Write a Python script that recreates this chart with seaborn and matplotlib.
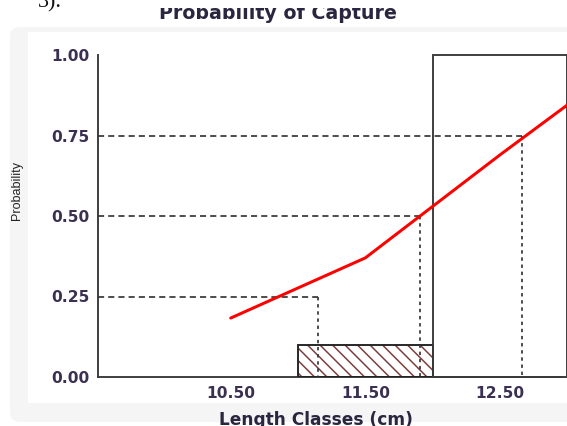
import matplotlib
matplotlib.use("Agg")
import matplotlib.pyplot as plt
import seaborn as sns
from matplotlib.patches import FancyBboxPatch, Rectangle

# Selection curve: probability of capture at each length-class midpoint
length_mid = [10.5, 11.5, 12.5, 13.5]
capture_prob = [0.183, 0.37, 0.69, 1.0]

# Length classes drawn as boxes (left edge, width, height)
class_left = [11.0, 12.0]
class_width = [1.0, 1.0]
class_height = [0.10, 1.00]

# Lengths at 25 %, 50 % and 75 % probability of capture
prob_levels = [0.25, 0.50, 0.75]
length_at_prob = [11.15, 11.905, 12.66]

x_ticks = [10.5, 11.5, 12.5]
x_tick_labels = ["10.50", "11.50", "12.50"]
y_ticks = [0.0, 0.25, 0.5, 0.75, 1.0]
y_tick_labels = ["0.00", "0.25", "0.50", "0.75", "1.00"]

x_range = (9.515, 12.997)
y_range = (0.0, 1.0)

DPI = 75
W, H = 567, 426


def pt(px):
    return px * 72.0 / DPI


def fx(x):
    return x / W


def fy(y):
    return 1.0 - y / H


sns.set_theme(style="white")
plt.rcParams["font.family"] = ["DejaVu Sans"]
plt.rcParams["hatch.linewidth"] = pt(1.5)

fig = plt.figure(figsize=(W / DPI, H / DPI), dpi=DPI)
fig.patch.set_facecolor("white")

# faint chart panel behind the plot
panel = FancyBboxPatch((fx(10), fy(422)), fx(640) - fx(10), fy(27) - fy(422),
                       boxstyle="round,pad=0,rounding_size=0.02",
                       transform=fig.transFigure, facecolor="#f5f5f5",
                       edgecolor="none", zorder=-2)
fig.patches.append(panel)
inner = Rectangle((fx(28), fy(403)), fx(640) - fx(28), fy(32) - fy(403),
                  transform=fig.transFigure, facecolor="white",
                  edgecolor="none", zorder=-1)
fig.patches.append(inner)

ax = fig.add_axes([fx(98), fy(377), fx(567) - fx(98), fy(55) - fy(377)])
ax.patch.set_alpha(0)
ax.set_xlim(*x_range)
ax.set_ylim(*y_range)

axis_col = "#3a3a3a"
box_lw = pt(1.9)

# hatched lower class (hatch layer, then outline)
ax.bar(class_left[:1], class_height[:1], width=class_width[:1], align="edge",
       facecolor="none", edgecolor="#7d3c3c", linewidth=0, hatch="\\\\",
       zorder=2)
ax.bar(class_left[:1], class_height[:1], width=class_width[:1], align="edge",
       facecolor="none", edgecolor="#222222", linewidth=box_lw, zorder=3)
# open upper class
ax.bar(class_left[1:], class_height[1:], width=class_width[1:], align="edge",
       facecolor="none", edgecolor=axis_col, linewidth=box_lw, zorder=3,
       clip_on=False)

# reference lines for L25, L50, L75
for p, L in zip(prob_levels, length_at_prob):
    ax.plot([x_range[0], L], [p, p], color="#333333", lw=pt(1.7),
            ls=(0, (3.6, 2.4)), zorder=4, solid_capstyle="butt")
    ax.plot([L, L], [p, y_range[0]], color="#333333", lw=pt(1.7),
            ls=(0, (2.0, 2.2)), zorder=4)

# selection curve
sns.lineplot(x=length_mid, y=capture_prob, color="#ff0000", linewidth=pt(3.0),
             ax=ax, zorder=5)

for side in ("top", "right"):
    ax.spines[side].set_visible(False)
for side in ("left", "bottom"):
    ax.spines[side].set_color(axis_col)
    ax.spines[side].set_linewidth(box_lw)
ax.spines["bottom"].set_bounds(x_range[0], 12.96)

tick_col = "#3b3052"
ax.set_xticks(x_ticks)
ax.set_xticklabels(x_tick_labels)
ax.set_yticks(y_ticks)
ax.set_yticklabels(y_tick_labels)
ax.tick_params(axis="x", direction="in", length=pt(5), width=pt(1.6),
               color=axis_col, pad=pt(9), labelsize=pt(15.5),
               labelcolor=tick_col)
ax.tick_params(axis="y", direction="in", length=pt(9), width=pt(1.6),
               color=axis_col, pad=pt(8), labelsize=pt(15.5),
               labelcolor=tick_col)
for lab in ax.get_xticklabels() + ax.get_yticklabels():
    lab.set_fontweight("bold")
ax.set_xlabel("")
ax.set_ylabel("")

fig.text(fx(278), fy(19), "Probability of Capture", ha="center",
         va="baseline", fontsize=pt(19), fontweight="bold", color="#2b2640",
         zorder=3)
# white strip over the upper part of the heading
fig.patches.append(Rectangle((fx(120), fy(8)), fx(330), fy(0) - fy(8),
                             transform=fig.transFigure, facecolor="white",
                             edgecolor="none", zorder=3.5))
fig.text(fx(316), fy(425), "Length Classes (cm)", ha="center",
         va="baseline", fontsize=pt(17), fontweight="bold", color="#2b2640")
fig.text(fx(17), fy(191), "Probability", rotation=90, ha="center",
         va="center", fontsize=pt(12.5), family="Liberation Sans",
         color="#222222")
fig.text(fx(38), fy(7), "3).", ha="left", va="baseline", fontsize=pt(22),
         family="Liberation Serif", color="#111111", zorder=4)

fig.savefig("out.png", dpi=DPI)
